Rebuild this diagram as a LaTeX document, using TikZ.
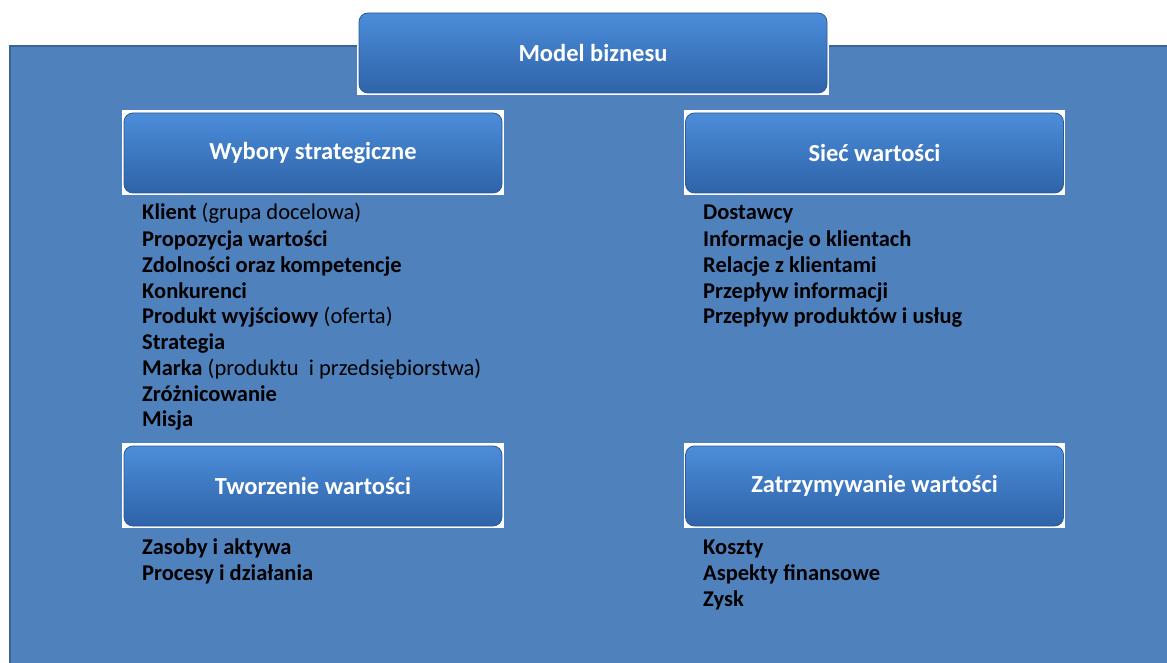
\documentclass[tikz,border=0pt]{standalone}
\usepackage{fontspec}
\setmainfont{Carlito}
\definecolor{panel}{RGB}{79,129,189}
\definecolor{paneledge}{RGB}{58,99,150}
\definecolor{btop}{RGB}{76,141,218}
\definecolor{bbot}{RGB}{46,99,168}
\definecolor{bedge}{RGB}{44,90,150}
\begin{document}
\begin{tikzpicture}[x=1pt,y=-1pt,
  bbox/.style={rounded corners=9pt, top color=btop, bottom color=bbot, draw=bedge, line width=0.8pt,
    minimum width=378pt, minimum height=80pt, text=white, font=\fontsize{24.5}{28}\selectfont\bfseries, inner sep=0pt},
  wbg/.style={fill=white},
  item/.style={anchor=base west, inner sep=0pt, text=black, font=\fontsize{22.5}{26}\selectfont}]
\useasboundingbox (0,0) rectangle (1167,663);
\fill[white] (0,0) rectangle (1167,663);
\filldraw[fill=panel, draw=paneledge, line width=2.5pt] (10,46) rectangle (1190,690);
% white backgrounds
\fill[wbg] (357,11) rectangle (829,95);
\fill[wbg] (122,110) rectangle (504,195);
\fill[wbg] (684,110) rectangle (1065,195);
\fill[wbg] (122,443) rectangle (504,528);
\fill[wbg] (684,443) rectangle (1065,528);
% boxes
\node[bbox, minimum width=468pt] (mb) at (593,53) {\raisebox{-1.5pt}{Model biznesu}};
\node[bbox] (ws) at (313,153) {\raisebox{-1.5pt}{Wybory strategiczne}};
\node[bbox] (sw) at (874.5,153) {\raisebox{-1.5pt}{Sieć wartości}};
\node[bbox] (tw) at (313,486) {\raisebox{-1.5pt}{Tworzenie wartości}};
\node[bbox] (zw) at (874.5,486) {\raisebox{-1.5pt}{Zatrzymywanie wartości}};
% left list
\node[item] (l1) at (142,220) {\textbf{Klient} (grupa docelowa)};
\node[item] (l2) at (142,246) {\textbf{Propozycja wartości}};
\node[item] (l3) at (142,272) {\textbf{Zdolności oraz kompetencje}};
\node[item] (l4) at (142,298) {\textbf{Konkurenci}};
\node[item] (l5) at (142,323) {\textbf{Produkt wyjściowy} (oferta)};
\node[item] (l6) at (142,349) {\textbf{Strategia}};
\node[item] (l7) at (142,375) {\textbf{Marka} (produktu \ i przedsiębiorstwa)};
\node[item] (l8) at (142,401) {\textbf{Zróżnicowanie}};
\node[item] (l9) at (142,426) {\textbf{Misja}};
% right list
\node[item] (r1) at (703,220) {\textbf{Dostawcy}};
\node[item] (r2) at (703,246) {\textbf{Informacje o klientach}};
\node[item] (r3) at (703,272) {\textbf{Relacje z klientami}};
\node[item] (r4) at (703,298) {\textbf{Przepływ informacji}};
\node[item] (r5) at (703,323) {\textbf{Przepływ produktów i usług}};
% bottom lists
\node[item] (t1) at (142,554) {\textbf{Zasoby i aktywa}};
\node[item] (t2) at (142,580) {\textbf{Procesy i działania}};
\node[item] (z1) at (703,554) {\textbf{Koszty}};
\node[item] (z2) at (703,580) {\textbf{Aspekty finansowe}};
\node[item] (z3) at (703,606) {\textbf{Zysk}};
\end{tikzpicture}
\end{document}
